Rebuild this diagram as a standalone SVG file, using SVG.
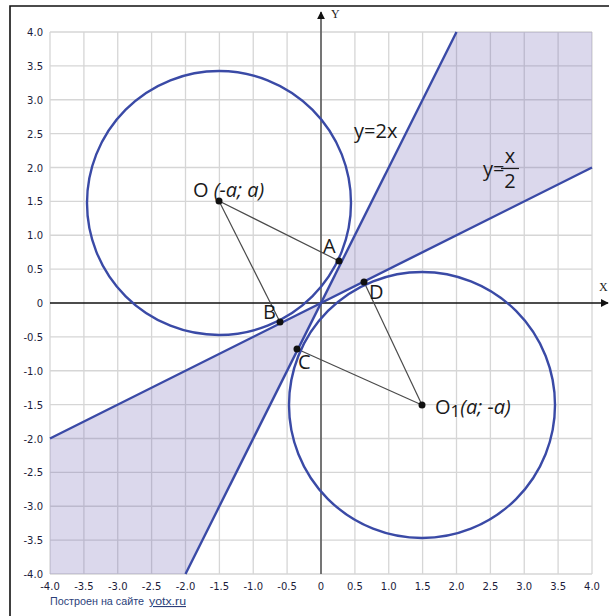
<svg xmlns="http://www.w3.org/2000/svg" width="609" height="616" viewBox="0 0 609 616">
<style>
.grid{stroke:#d6d6d6;stroke-width:1.3;fill:none}
.tick{font-family:"DejaVu Sans","Liberation Sans",sans-serif;font-size:10px;fill:#1c1c3a}
.ty{text-anchor:end}
.tx{text-anchor:middle}
.curve{stroke:#3a4aa6;stroke-width:2.4;fill:none}
.seg{stroke:#4a4a4a;stroke-width:1.2;fill:none}
.dot{fill:#111}
.lbl{font-family:"Open Sans","Noto Sans",sans-serif;font-size:20px;fill:#1a1a1a}
.shade{fill:#6f63b5;fill-opacity:0.25;stroke:none}
.foot{font-family:"Liberation Sans",Arial,sans-serif;font-size:11px;fill:#2b3f7a}
</style>
<defs>
<marker id="arr" viewBox="0 0 10 10" refX="9" refY="5" markerWidth="8" markerHeight="8" markerUnits="userSpaceOnUse" orient="auto">
<path d="M0,0 L10,5 L0,10 z" fill="#111"/>
</marker>
</defs>
<rect width="609" height="616" fill="#fff"/>
<path d="M10,616 V6 H609" stroke="#111" stroke-width="1.6" fill="none"/>
<g id="grid">
<path class="grid" d="M50,32V574 M83.9,32V574 M117.75,32V574 M151.6,32V574 M185.5,32V574 M219.4,32V574 M253.25,32V574 M287.1,32V574 M354.9,32V574 M388.75,32V574 M422.6,32V574 M456.5,32V574 M490.4,32V574 M524.25,32V574 M558.1,32V574 M592,32V574 M50,32H592 M50,65.9H592 M50,99.75H592 M50,133.6H592 M50,167.5H592 M50,201.4H592 M50,235.25H592 M50,269.1H592 M50,336.9H592 M50,370.75H592 M50,404.6H592 M50,438.5H592 M50,472.4H592 M50,506.25H592 M50,540.1H592 M50,574H592"/>
</g>
<g id="shading">
<polygon class="shade" points="321,303 456.5,32 592,32 592,167.5"/>
<polygon class="shade" points="321,303 185.5,574 50,574 50,438.5"/>
</g>
<g id="ticks">
<text class="tick ty" x="43" y="36">4.0</text>
<text class="tick ty" x="43" y="69.9">3.5</text>
<text class="tick ty" x="43" y="103.75">3.0</text>
<text class="tick ty" x="43" y="137.6">2.5</text>
<text class="tick ty" x="43" y="171.5">2.0</text>
<text class="tick ty" x="43" y="205.4">1.5</text>
<text class="tick ty" x="43" y="239.25">1.0</text>
<text class="tick ty" x="43" y="273.1">0.5</text>
<text class="tick ty" x="43" y="307">0</text>
<text class="tick ty" x="43" y="340.9">-0.5</text>
<text class="tick ty" x="43" y="374.75">-1.0</text>
<text class="tick ty" x="43" y="408.6">-1.5</text>
<text class="tick ty" x="43" y="442.5">-2.0</text>
<text class="tick ty" x="43" y="476.4">-2.5</text>
<text class="tick ty" x="43" y="510.25">-3.0</text>
<text class="tick ty" x="43" y="544.1">-3.5</text>
<text class="tick ty" x="43" y="578">-4.0</text>
<text class="tick tx" x="50" y="590">-4.0</text>
<text class="tick tx" x="83.9" y="590">-3.5</text>
<text class="tick tx" x="117.75" y="590">-3.0</text>
<text class="tick tx" x="151.6" y="590">-2.5</text>
<text class="tick tx" x="185.5" y="590">-2.0</text>
<text class="tick tx" x="219.4" y="590">-1.5</text>
<text class="tick tx" x="253.25" y="590">-1.0</text>
<text class="tick tx" x="287.1" y="590">-0.5</text>
<text class="tick tx" x="321" y="590">0</text>
<text class="tick tx" x="354.9" y="590">0.5</text>
<text class="tick tx" x="388.75" y="590">1.0</text>
<text class="tick tx" x="422.6" y="590">1.5</text>
<text class="tick tx" x="456.5" y="590">2.0</text>
<text class="tick tx" x="490.4" y="590">2.5</text>
<text class="tick tx" x="524.25" y="590">3.0</text>
<text class="tick tx" x="558.1" y="590">3.5</text>
<text class="tick tx" x="592" y="590">4.0</text>
</g>
<g id="axes">
<line x1="50" y1="303" x2="608" y2="303" stroke="#111" stroke-width="1.5" marker-end="url(#arr)"/>
<line x1="321" y1="574" x2="321" y2="12" stroke="#666" stroke-width="1.8" marker-end="url(#arr)"/>
<text x="331" y="18" font-family="Liberation Serif,serif" font-size="12" fill="#222">Y</text>
<text x="599" y="291" font-family="Liberation Serif,serif" font-size="12" fill="#222">X</text>
</g>
<g id="connectors">
<line class="curve" x1="185.5" y1="574" x2="456.5" y2="32"/>
<line class="curve" x1="50" y1="438.5" x2="592" y2="167.5"/>
<line class="seg" x1="219" y1="201" x2="339" y2="261"/>
<line class="seg" x1="219" y1="201" x2="280" y2="322"/>
<line class="seg" x1="422" y1="405" x2="297" y2="349"/>
<line class="seg" x1="422" y1="405" x2="364" y2="282"/>
</g>
<g id="circle-O"><circle class="curve" cx="219" cy="203" r="132"/></g>
<g id="circle-O1"><circle class="curve" cx="422" cy="405" r="133"/></g>
<g id="node-O"><circle class="dot" cx="219" cy="201" r="3.5"/>
<text class="lbl" x="193" y="197" font-size="20.5">O <tspan font-style="italic">(-a; a)</tspan></text></g>
<g id="node-A"><circle class="dot" cx="339" cy="261" r="3.5"/><text class="lbl" x="323" y="253" font-size="18.5">A</text></g>
<g id="node-B"><circle class="dot" cx="280" cy="322" r="3.5"/><text class="lbl" x="263" y="319" font-size="18.5">B</text></g>
<g id="node-C"><circle class="dot" cx="297" cy="349" r="3.5"/><text class="lbl" x="298" y="369" font-size="18.5">C</text></g>
<g id="node-D"><circle class="dot" cx="364" cy="282" r="3.5"/><text class="lbl" x="369" y="299" font-size="18.5">D</text></g>
<g id="node-O1"><circle class="dot" cx="422" cy="405" r="3.5"/>
<text class="lbl" x="435" y="414" font-size="20.5">O<tspan font-size="17" dy="3">1</tspan><tspan dy="-3" font-style="italic">(a; -a)</tspan></text></g>
<g id="label-y2x"><text class="lbl" x="354" y="138" font-size="16.5">y=2x</text></g>
<g id="label-yx2">
<text class="lbl" x="483" y="176" font-size="16.5">y=</text>
<text class="lbl" x="510" y="163" font-size="16.5" text-anchor="middle">x</text>
<line x1="501" y1="168.5" x2="519" y2="168.5" stroke="#1a1a1a" stroke-width="1.2"/>
<text class="lbl" x="510" y="188" font-size="16.5" text-anchor="middle">2</text>
</g>
<text class="foot" x="50" y="605" textLength="94" lengthAdjust="spacingAndGlyphs">Построен на сайте</text>
<text class="foot" x="149" y="605" textLength="37" lengthAdjust="spacingAndGlyphs" text-decoration="underline">yotx.ru</text>
</svg>
